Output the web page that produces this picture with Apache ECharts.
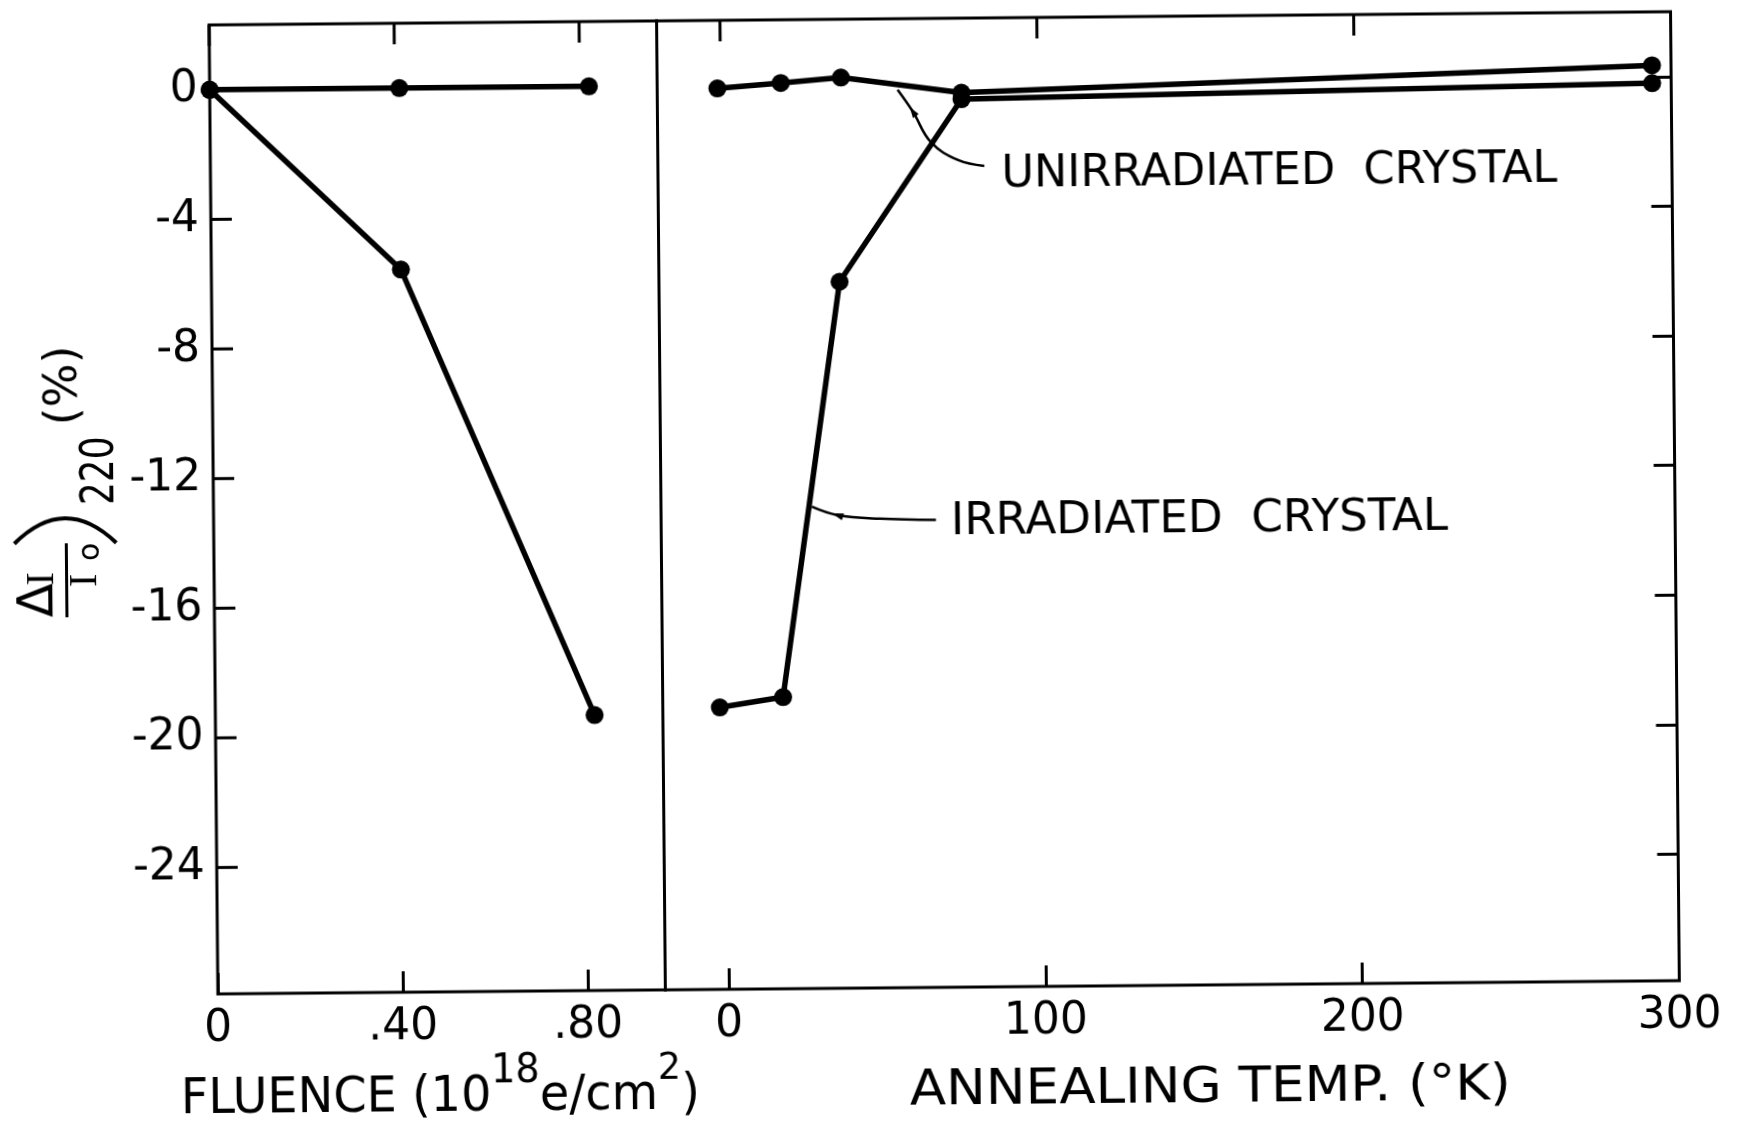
<!DOCTYPE html>
<html>
<head>
<meta charset="utf-8">
<title>Relative change of the 220 reflection intensity</title>
<script src="https://cdn.jsdelivr.net/npm/echarts@6/dist/echarts.min.js"></script>
<style>
  html, body { margin: 0; padding: 0; background: #fff; overflow: hidden; }
  .frame { width: 1739px; height: 1126px; }
  #chart { transform: rotate(-0.52deg); transform-origin: 50% 50%; }
  #scratch { position: absolute; left: -4000px; top: 0; visibility: hidden; }
</style>
</head>
<body>
<div id="chart" class="frame"></div>
<div id="scratch" class="frame"></div>
<script>
// ---- data ----
const fluence = [0, 0.41, 0.82];                 // 10^18 e/cm^2
const fluenceUnirradiated = [0, 0, 0];           // %
const fluenceIrradiated = [0, -5.6, -19.4];      // %

const tempUnirradiated = [-1, 19, 38, 76, 294];  // K
const annealUnirradiated = [-0.1, 0.05, 0.2, -0.3, 0.35];
const tempIrradiated = [-2, 18, 37, 76, 294];    // K
const annealIrradiated = [-19.2, -18.9, -6.1, -0.5, -0.2];

const yTicks = [-24, -20, -16, -12, -8, -4, 0];
const fluenceTicks = [0, 0.4, 0.8];
const fluenceTickLabels = ['0', '.40', '.80'];
const tempTicks = [0, 100, 200, 300];
const tempTickLabels = ['0', '100', '200', '300'];

// ---- chart ----
const FAMILY = 'DejaVu Sans';
const INK = '#000';
const TICK_LEN = 21, TICK_W = 3;

function lookup(ticks, labels) {
  return function (v) {
    const i = ticks.findIndex(function (t) { return Math.abs(t - v) < 1e-9; });
    return i >= 0 ? labels[i] : '';
  };
}
function tickOpt(values) {
  if (!values) return { show: false };
  return { show: true, inside: true, length: TICK_LEN, lineStyle: { color: INK, width: TICK_W }, customValues: values.slice() };
}
function labelOpt(values, labels, margin) {
  if (!values) return { show: false };
  const o = { show: true, color: INK, fontFamily: FAMILY, fontSize: 44, margin: margin, customValues: values.slice() };
  if (labels) o.formatter = lookup(values, labels);
  return o;
}
function axis(gridIndex, position, min, max, tickVals, labelVals, labels) {
  return {
    gridIndex: gridIndex, type: 'value', min: min, max: max, position: position,
    axisLine: { show: false, onZero: false },
    splitLine: { show: false },
    axisTick: tickOpt(tickVals),
    axisLabel: labelOpt(labelVals, labels, position === 'left' ? 12 : 14)
  };
}
function grid(left, width) {
  return { left: left, top: 19, width: width, height: 969, show: true, borderColor: INK, borderWidth: 3 };
}

function pairs(xs, ys) { return xs.map(function (x, i) { return [x, ys[i]]; }); }
function lineSeries(xi, yi, data) {
  return {
    type: 'line', xAxisIndex: xi, yAxisIndex: yi, data: data,
    symbol: 'circle', symbolSize: 18, showSymbol: true,
    itemStyle: { color: INK }, lineStyle: { color: INK, width: 5.5 },
    z: 5, silent: true
  };
}

const FL_MAX = 0.9676, T_MIN = -20, T_MAX = 300, Y_MIN = -27.9, Y_MAX = 2;

// bottom and right ticks come from the axes; left and top ticks are added as lines
function baseOption() {
  return {
    animation: false,
    backgroundColor: '#fff',
    grid: [grid(214, 447.5), grid(661.5, 1014)],
    xAxis: [
      axis(0, 'bottom', 0, FL_MAX, fluenceTicks, fluenceTicks, fluenceTickLabels),
      axis(0, 'top', 0, FL_MAX),
      axis(1, 'bottom', T_MIN, T_MAX, tempTicks, tempTicks, tempTickLabels),
      axis(1, 'top', T_MIN, T_MAX)
    ],
    yAxis: [
      axis(0, 'left', Y_MIN, Y_MAX, null, yTicks),
      axis(0, 'right', Y_MIN, Y_MAX),
      axis(1, 'left', Y_MIN, Y_MAX),
      axis(1, 'right', Y_MIN, Y_MAX, yTicks)
    ],
    series: [
      lineSeries(0, 0, pairs(fluence, fluenceUnirradiated)),
      lineSeries(0, 0, pairs(fluence, fluenceIrradiated)),
      lineSeries(2, 3, pairs(tempUnirradiated, annealUnirradiated)),
      lineSeries(2, 3, pairs(tempIrradiated, annealIrradiated))
    ]
  };
}

// a layout-only instance supplies pixel positions through the axis scales
const scratchDom = document.getElementById('scratch');
const scratch = echarts.init(scratchDom, null, { renderer: 'canvas' });
scratch.setOption(baseOption());
function toPx(xi, yi, pt) { return scratch.convertToPixel({ xAxisIndex: xi, yAxisIndex: yi }, pt); }
function along(xs, ys, i, f) {
  const a = toPx(2, 3, [xs[i], ys[i]]), b = toPx(2, 3, [xs[i + 1], ys[i + 1]]);
  return [a[0] + f * (b[0] - a[0]), a[1] + f * (b[1] - a[1])];
}
const tipU = along(tempUnirradiated, annealUnirradiated, 2, 0.47);
const tipI = along(tempIrradiated, annealIrradiated, 1, 0.456);

const graphic = [];
function tickLine(p, dx, dy) {
  graphic.push({ type: 'polyline', z: 100, silent: true,
    shape: { points: [[p[0], p[1]], [p[0] + dx, p[1] + dy]] },
    style: { stroke: INK, lineWidth: TICK_W, fill: null } });
}
// inward ticks on the left axis and along both top edges
yTicks.forEach(function (v) { tickLine(toPx(0, 0, [0, v]), TICK_LEN, 0); });
fluenceTicks.forEach(function (v) { tickLine(toPx(0, 0, [v, Y_MAX]), 0, TICK_LEN); });
tempTicks.forEach(function (v) { tickLine(toPx(2, 3, [v, Y_MAX]), 0, TICK_LEN); });

scratch.dispose();
scratchDom.remove();

// ---- titles and annotations ----
const measure = document.createElement('canvas').getContext('2d');
function widthOf(str, size, family) {
  measure.font = size + 'px "' + (family || FAMILY) + '"';
  return measure.measureText(str).width;
}
function txt(str, x, y, size, family, extra) {
  return Object.assign({
    type: 'text', x: x, y: y,
    style: { text: str, font: size + 'px "' + (family || FAMILY) + '"', fill: INK,
             align: 'left', textAlign: 'left', verticalAlign: 'middle', textVerticalAlign: 'middle' }
  }, extra || {});
}
// a run of text pieces, stretched as a whole to a given width
function stretchedRun(pieces, left, midY, targetWidth) {
  let cx = 0;
  const children = pieces.map(function (p) {
    const el = txt(p.t, cx, p.dy || 0, p.size, p.family);
    cx += widthOf(p.t, p.size, p.family);
    return el;
  });
  return { type: 'group', x: left, y: midY, scaleX: targetWidth / cx, children: children };
}

const aU = [tipU[0], tipU[1] + 5];
const aI = [tipI[0] + 3, tipI[1] - 1];

// leader for the unirradiated curve
graphic.push({ type: 'polyline', x: aU[0], y: aU[1], z: 10,
  shape: { points: [[0, 0], [15, 22], [33, 53], [60, 71], [86, 77]], smooth: 0.4 },
  style: { stroke: INK, lineWidth: 2.5, fill: null } });
graphic.push({ type: 'polygon', x: aU[0], y: aU[1], z: 10,
  shape: { points: [[12, 17.5], [20.9, 24.5], [15.1, 28.5]] }, style: { fill: INK } });
graphic.push(stretchedRun([{ t: 'UNIRRADIATED  CRYSTAL', size: 44 }], aU[0] + 103, aU[1] + 87, 556));

// leader for the irradiated curve
graphic.push({ type: 'polyline', x: aI[0], y: aI[1], z: 10,
  shape: { points: [[0, 0], [25, 8.5], [68, 12.7], [124, 14.3]], smooth: 0.4 },
  style: { stroke: INK, lineWidth: 2.5, fill: null } });
graphic.push({ type: 'polygon', x: aI[0], y: aI[1], z: 10,
  shape: { points: [[20, 6.8], [32.1, 7.2], [29.9, 13.8]] }, style: { fill: INK } });
graphic.push(stretchedRun([{ t: 'IRRADIATED  CRYSTAL', size: 44 }], aI[0] + 139, aI[1] + 17, 497));

// x axis titles
graphic.push(stretchedRun([
  { t: 'FLUENCE (10', size: 50 },
  { t: '18', size: 40, dy: -25 },
  { t: 'e/cm', size: 50 },
  { t: '2', size: 38, dy: -27 },
  { t: ')', size: 50 }
], 176, 1094, 519));
graphic.push(stretchedRun([{ t: 'ANNEALING TEMP. (°K)', size: 49 }], 905, 1092, 601));

// y axis title: (ΔI / Io)220 (%), reading upwards
graphic.push({
  type: 'group', x: 66.5, y: 610, rotation: Math.PI / 2,
  children: [
    txt('Δ', 0, -27, 50),
    txt('I', 32, -24, 40, 'Liberation Serif'),
    { type: 'line', shape: { x1: 0, y1: 0, x2: 74, y2: 0 }, style: { stroke: INK, lineWidth: 3 } },
    txt('I', 30, 19, 40, 'Liberation Serif'),
    txt('o', 56, 25, 30),
    { type: 'bezierCurve', shape: { x1: 74, y1: -52, cpx1: 124, cpy1: -1, x2: 74, y2: 50 },
      style: { stroke: INK, lineWidth: 4, fill: null } },
    Object.assign(txt('220', 112, 36, 46), { scaleX: 0.78 }),
    txt('(%)', 192, 0, 46)
  ]
});

// the displayed chart is built in a single pass
const chart = echarts.init(document.getElementById('chart'), null, { renderer: 'canvas' });
const option = baseOption();
option.graphic = graphic;
chart.setOption(option);
</script>
</body>
</html>
